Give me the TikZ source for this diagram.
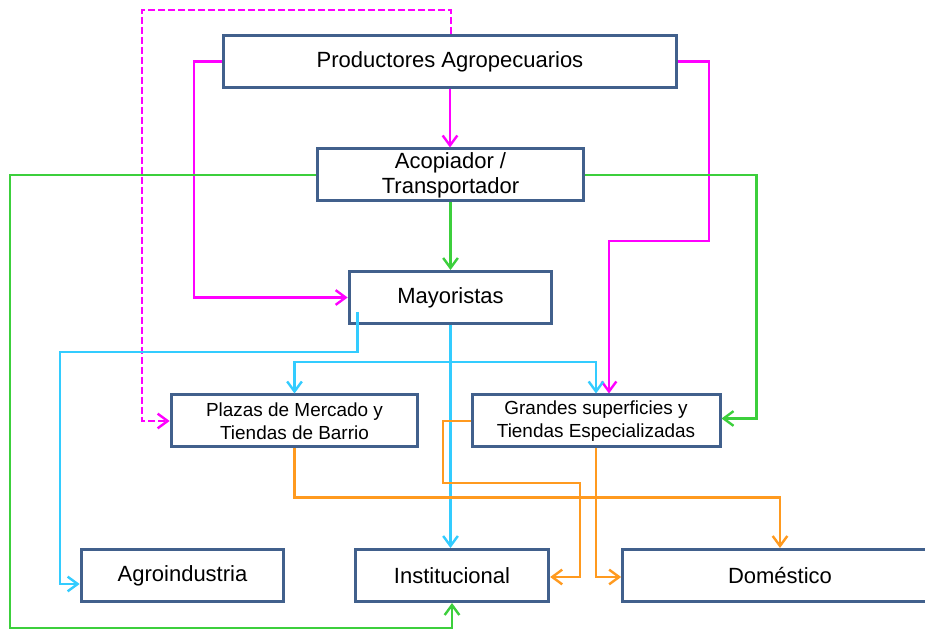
\documentclass[tikz,border=0pt]{standalone}
\usepackage{fontspec}
\setmainfont{Liberation Sans}
\usetikzlibrary{arrows.meta,calc}

\definecolor{boxblue}{HTML}{41608C}
\definecolor{flowmag}{HTML}{FF00FF}
\definecolor{flowgreen}{HTML}{3CCF3C}
\definecolor{flowcyan}{HTML}{33CCFF}
\definecolor{floworange}{HTML}{FF9A1F}

\tikzset{every picture/.style={line width=0.75pt}}
\tikzset{
  actor/.style={draw=boxblue, line width=2.25pt, fill=white, minimum height=39pt, inner sep=0pt, align=center, font=\fontsize{16.5}{18.75}\selectfont},
  smallactor/.style={actor, font=\fontsize{14.2}{17}\selectfont},
  flow/.style={line width=1.8pt, -{Straight Barb[length=7.5pt,width=11pt]}},
}

\begin{document}
\begin{tikzpicture}[x=0.75pt,y=0.75pt,yscale=-1,xscale=1]
	\clip (0,0) rectangle (925,630);
	\fill[white] (0,0) rectangle (925,630);

	%Shape: Rectangle [prod]
	\node[actor, minimum width=340pt] (prod) at (450,61.5) {Productores Agropecuarios};
	%Shape: Rectangle [acop]
	\node[actor, minimum width=199pt] (acop) at (450.5,175) {Acopiador /\\Transportador};
	%Shape: Rectangle [mayo]
	\node[actor, minimum width=152pt] (mayo) at (450.5,297.5) {Mayoristas};
	%Shape: Rectangle [plaz]
	\node[smallactor, minimum width=185pt] (plaz) at (294.5,421) {Plazas de Mercado y\\Tiendas de Barrio};
	%Shape: Rectangle [gran]
	\node[smallactor, minimum width=186pt] (gran) at (596,421) {Grandes superficies y\\Tiendas Especializadas};
	%Shape: Rectangle [agro]
	\node[actor, minimum width=152pt] (agro) at (182.5,575.5) {Agroindustria};
	%Shape: Rectangle [inst]
	\node[actor, minimum width=145pt] (inst) at (452,575.5) {Institucional};
	%Shape: Rectangle [dome]
	\node[actor, minimum width=236pt] (dome) at (780,575.5) {Doméstico};

	% Productores
	\draw[flow, flowmag] (prod.south) -- (prod.south |- acop.north);
	\draw[flow, flowmag] (prod.west) -| (194,200) |- (mayo.west);
	\draw[flow, flowmag] (prod.east) -| (709,241) -| ($(gran.north)+(13,0)$);
	\draw[flow, flowmag, dash pattern=on 5pt off 2.5pt] ($(prod.north)+(1,0)$) |- (142,10) |- (plaz.west);

	% Acopiador
	\draw[flow, flowgreen] (acop.south) -- (acop.south |- mayo.north);
	\draw[flow, flowgreen] (acop.west) -| (10,628) -| (inst.south);
	\draw[flow, flowgreen] (acop.east) -| ($(gran.east)+(35,-2.5)$) -- ($(gran.east)+(0,-2.5)$);

	% Mayoristas
	\coordinate (split) at ($(mayo.south)+(0,37)$);
	\draw[flow, flowcyan] ($(mayo.south west)+(10,-13)$) |- (60,352) |- ($(agro.west)+(0,8.5)$);
	\draw[flow, flowcyan] (mayo.south) -- (mayo.south |- inst.north);
	\draw[flow, flowcyan] (split) -| (plaz.north);
	\draw[flow, flowcyan] (split) -| (gran.north);

	% Plazas y Grandes superficies
	\draw[flow, floworange] (plaz.south) -- ++(0,49) -| (dome.north);
	\draw[flow, floworange] (gran.west) -| (443,483) -| ($(inst.east)+(30,1.5)$) -- ($(inst.east)+(0,1.5)$);
	\draw[flow, floworange] (gran.south) |- ($(dome.west)+(0,1.5)$);
\end{tikzpicture}
\end{document}
